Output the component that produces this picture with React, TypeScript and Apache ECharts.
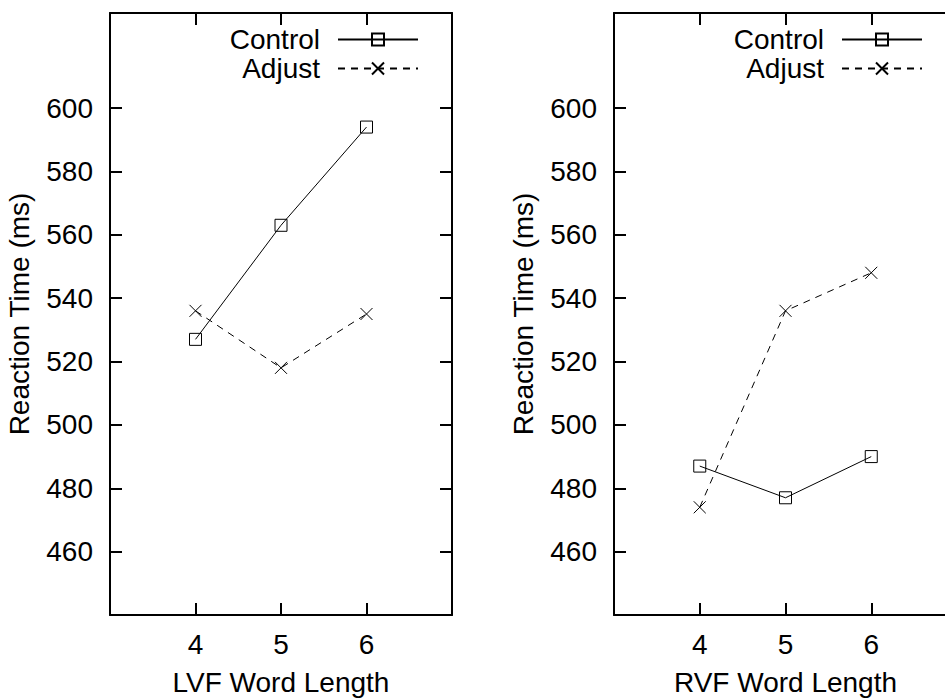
import React, { useEffect, useRef } from "react";
import * as echarts from "echarts";

const wordLengths = [4, 5, 6];
const lvfControl = [527, 563, 594];
const lvfAdjust = [536, 518, 535];
const rvfControl = [487, 477, 490];
const rvfAdjust = [474, 536, 548];
const yTicks = [460, 480, 500, 520, 540, 560, 580, 600];
const xTicks = [4, 5, 6];
const seriesNames = ["Control", "Adjust"];

const FONT = "Liberation Sans, Arial, Helvetica, sans-serif";
const SQUARE = "path://M0,0H10V10H0Z";
const CROSS = "path://M0,0L10,10M10,0L0,10";

function pairs(xs: number[], ys: number[]) {
  return xs.map((x, i) => [x, ys[i]]);
}

export default function App() {
  const ref = useRef<HTMLDivElement>(null);
  useEffect(() => {
    if (!ref.current) return;
    const chart = echarts.init(ref.current, null, { renderer: "svg" });
    const axisLine = { show: true, onZero: false, lineStyle: { color: "#000", width: 2 } };
    const tickStyle = { show: true, inside: true, length: 12, lineStyle: { color: "#000", width: 2 } };
    const labelStyle = { color: "#000", fontSize: 28, fontFamily: FONT };

    const xAxes: any[] = [];
    const yAxes: any[] = [];
    const names = ["LVF Word Length", "RVF Word Length"];
    [0, 1].forEach((g) => {
      xAxes.push({
        type: "value", gridIndex: g, position: "bottom", min: 3, max: 7,
        axisLine, axisTick: { ...tickStyle, customValues: xTicks },
        axisLabel: { ...labelStyle, margin: 15, customValues: xTicks },
        splitLine: { show: false },
        name: names[g], nameLocation: "middle", nameGap: 53,
        nameTextStyle: { ...labelStyle, lineHeight: 28 },
      });
      xAxes.push({
        type: "value", gridIndex: g, position: "top", min: 3, max: 7,
        axisLine, axisTick: { ...tickStyle, customValues: xTicks },
        axisLabel: { show: false }, splitLine: { show: false },
      });
      yAxes.push({
        type: "value", gridIndex: g, position: "left", min: 440, max: 630,
        axisLine, axisTick: { ...tickStyle, customValues: yTicks },
        axisLabel: { ...labelStyle, margin: 17, customValues: yTicks },
        splitLine: { show: false },
        name: "Reaction Time (ms)", nameLocation: "middle", nameGap: 77,
        nameTextStyle: labelStyle,
      });
      yAxes.push({
        type: "value", gridIndex: g, position: "right", min: 440, max: 630,
        axisLine, axisTick: { ...tickStyle, customValues: yTicks },
        axisLabel: { show: false }, splitLine: { show: false },
      });
    });

    const mk = (name: string, g: number, data: number[][], dashed: boolean) => ({
      type: "line", name, xAxisIndex: g * 2, yAxisIndex: g * 2,
      data,
      symbol: dashed ? CROSS : SQUARE,
      symbolSize: 12,
      itemStyle: { color: "transparent", borderColor: "#000", borderWidth: 1 },
      lineStyle: { color: "#000", width: 1, type: dashed ? [7, 6] : "solid" },
      emphasis: { disabled: true },
      z: 3,
    });

    const legendBase = {
      orient: "vertical", align: "right", top: 25, padding: 0,
      itemWidth: 80, itemHeight: 15, itemGap: 0,
      data: seriesNames, selectedMode: false,
      textStyle: { ...labelStyle, lineHeight: 29, padding: [0, 13, 0, 0] },
    };

    chart.setOption({
      animation: false,
      backgroundColor: "#fff",
      grid: [
        { left: 110, top: 13, width: 342, height: 602, containLabel: false, outerBoundsMode: "none" },
        { left: 614, top: 13, width: 343, height: 602, containLabel: false, outerBoundsMode: "none" },
      ],
      xAxis: xAxes,
      yAxis: yAxes,
      legend: [
        { ...legendBase, right: 526 },
        { ...legendBase, right: 22 },
      ],
      series: [
        mk(seriesNames[0], 0, pairs(wordLengths, lvfControl), false),
        mk(seriesNames[1], 0, pairs(wordLengths, lvfAdjust), true),
        mk(seriesNames[0], 1, pairs(wordLengths, rvfControl), false),
        mk(seriesNames[1], 1, pairs(wordLengths, rvfAdjust), true),
      ],
    });
    return () => chart.dispose();
  }, []);
  return <div ref={ref} style={{ width: 945, height: 698, position: "fixed", left: 0, top: 0 }} />;
}
